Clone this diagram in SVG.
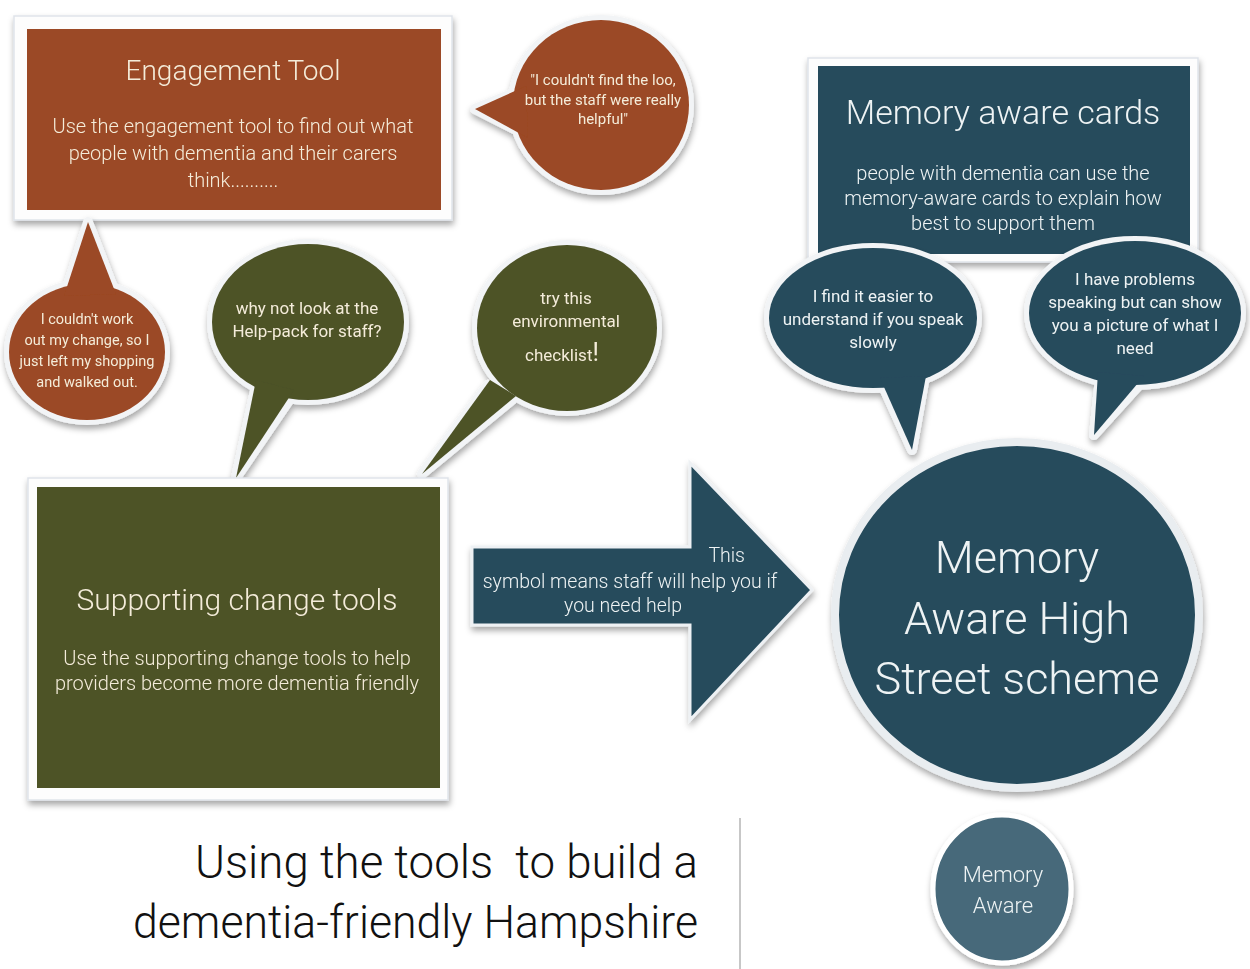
<svg xmlns="http://www.w3.org/2000/svg" width="1250" height="969" viewBox="0 0 1250 969">
  <style>
    text { font-family: Roboto, "Liberation Sans", "DejaVu Sans", sans-serif; font-weight: 300; text-anchor: middle; }
    .cream { fill: #f4ecd9; }
    .pale { fill: #eef3f4; }
    .frame { fill: #fdfdfd; stroke: #dfe4ea; stroke-width: 1.5; }
    .brown { fill: #9b4825; }
    .olive { fill: #4d5228; }
    .teal { fill: #264b5c; }
    .lteal { fill: #46697a; }
    .rim { fill: #ffffff; stroke: #f2f4f6; stroke-width: 10; stroke-linejoin: round; }
    .h1 { font-size: 28px; }
    .body { font-size: 20px; }
    .small { font-size: 14.5px; font-weight: 400; }
    .quote { font-size: 15px; font-weight: 400; }
    .mid { font-size: 17px; font-weight: 400; }
    .big { font-size: 45px; }
  </style>
  <defs>
    <filter id="shadow" x="-10%" y="-10%" width="120%" height="125%">
      <feDropShadow dx="1" dy="4" stdDeviation="3" flood-color="#000" flood-opacity="0.35"/>
    </filter>
  </defs>

  <rect width="1250" height="969" fill="#ffffff"/>

  <!-- Engagement Tool card -->
  <g id="engagement-tool" filter="url(#shadow)">
    <rect class="frame" x="14" y="16" width="438" height="204"/>
    <rect class="brown" x="27" y="29" width="414" height="181"/>
    <text class="cream h1" x="233" y="80">Engagement Tool</text>
    <text class="cream body" x="233" y="133">Use the engagement tool to find out what</text>
    <text class="cream body" x="233" y="160">people with dementia and their carers</text>
    <text class="cream body" x="233" y="187">think..........</text>
  </g>

  <!-- quote bubble: loo -->
  <g id="bubble-loo" filter="url(#shadow)">
    <ellipse class="rim" cx="601" cy="105" rx="88" ry="85"/>
    <polygon class="rim" points="475,109 522,90 524,134"/>
    <ellipse class="brown" cx="601" cy="105" rx="88" ry="85"/>
    <polygon class="brown" points="475,109 526,86 528,138"/>
    <text class="cream quote" x="603" y="85">"I couldn't find the loo,</text>
    <text class="cream quote" x="603" y="105">but the staff were really</text>
    <text class="cream quote" x="603" y="124">helpful"</text>
  </g>

  <!-- quote bubble: change -->
  <g id="bubble-change" filter="url(#shadow)">
    <ellipse class="rim" cx="87" cy="352" rx="78" ry="68"/>
    <polygon class="rim" points="88,222 66,292 114,290"/>
    <ellipse class="brown" cx="87" cy="352" rx="78" ry="68"/>
    <polygon class="brown" points="88,222 64,296 116,294"/>
    <text class="cream small" x="87" y="324">I couldn't work</text>
    <text class="cream small" x="87" y="345">out my change, so I</text>
    <text class="cream small" x="87" y="366">just left my shopping</text>
    <text class="cream small" x="87" y="387">and walked out.</text>
  </g>

  <!-- green bubble: help-pack -->
  <g id="bubble-helppack" filter="url(#shadow)">
    <ellipse class="rim" cx="308" cy="322" rx="96" ry="78"/>
    <polygon class="rim" points="236,478 256,386 292,396"/>
    <ellipse class="olive" cx="308" cy="322" rx="96" ry="78"/>
    <polygon class="olive" points="236,478 256,380 294,390"/>
    <text class="cream mid" x="307" y="314">why not look at the</text>
    <text class="cream mid" x="307" y="337">Help-pack for staff?</text>
  </g>

  <!-- green bubble: checklist -->
  <g id="bubble-checklist" filter="url(#shadow)">
    <ellipse class="rim" cx="567" cy="328" rx="90" ry="83"/>
    <polygon class="rim" points="422,474 488,385 512,400"/>
    <ellipse class="olive" cx="567" cy="328" rx="90" ry="83"/>
    <polygon class="olive" points="422,474 490,380 516,396"/>
    <text class="cream mid" x="566" y="304">try this</text>
    <text class="cream mid" x="566" y="327">environmental</text>
    <text class="cream mid" x="562" y="361">checklist<tspan font-size="25">!</tspan></text>
  </g>

  <!-- Memory aware cards -->
  <g id="memory-cards" filter="url(#shadow)">
    <rect class="frame" x="808" y="58" width="390" height="204"/>
    <rect class="teal" x="818" y="66" width="372" height="188"/>
    <text class="pale" x="1003" y="124" font-size="34">Memory aware cards</text>
    <text class="pale body" x="1003" y="180">people with dementia can use the</text>
    <text class="pale body" x="1003" y="205">memory-aware cards to explain how</text>
    <text class="pale body" x="1003" y="230">best to support them</text>
  </g>

  <!-- speech bubble: speak slowly -->
  <g id="bubble-slowly" filter="url(#shadow)">
    <ellipse class="rim" cx="873" cy="318" rx="104" ry="70"/>
    <polygon class="rim" points="912,450 882,384 924,382"/>
    <ellipse class="teal" cx="873" cy="318" rx="104" ry="70"/>
    <polygon class="teal" points="912,450 880,378 926,376"/>
    <text class="pale mid" x="873" y="302">I find it easier to</text>
    <text class="pale mid" x="873" y="325">understand if you speak</text>
    <text class="pale mid" x="873" y="348">slowly</text>
  </g>

  <!-- speech bubble: picture -->
  <g id="bubble-picture" filter="url(#shadow)">
    <ellipse class="rim" cx="1135" cy="313" rx="106" ry="72"/>
    <polygon class="rim" points="1094,435 1100,378 1142,382"/>
    <ellipse class="teal" cx="1135" cy="313" rx="106" ry="72"/>
    <polygon class="teal" points="1094,435 1098,372 1144,376"/>
    <text class="pale mid" x="1135" y="285">I have problems</text>
    <text class="pale mid" x="1135" y="308">speaking but can show</text>
    <text class="pale mid" x="1135" y="331">you a picture of what I</text>
    <text class="pale mid" x="1135" y="354">need</text>
  </g>

  <!-- Supporting change tools -->
  <g id="supporting-change" filter="url(#shadow)">
    <rect class="frame" x="28" y="478" width="420" height="322"/>
    <rect class="olive" x="37" y="487" width="403" height="301"/>
    <text class="cream" x="237" y="610" font-size="30">Supporting change tools</text>
    <text class="cream body" x="237" y="665">Use the supporting change tools to help</text>
    <text class="cream body" x="237" y="690">providers become more dementia friendly</text>
  </g>

  <!-- connector: arrow into the scheme -->
  <g id="connectors">
    <g id="arrow-help" filter="url(#shadow)">
      <polygon class="teal" points="472,547 690,547 690,463 812,590 690,720 690,625 472,625" stroke="#eef1f4" stroke-width="3" stroke-linejoin="miter"/>
      <text class="pale" x="745" y="562" font-size="19.5" style="text-anchor:end">This</text>
      <text class="pale" x="630" y="588" font-size="19.5">symbol means staff will help you if</text>
      <text class="pale" x="623" y="612" font-size="19.5">you need help</text>
    </g>
  </g>

  <!-- Memory Aware High Street scheme -->
  <g id="scheme" filter="url(#shadow)">
    <ellipse class="teal" cx="1017" cy="615" rx="182" ry="173" stroke="#e9edf0" stroke-width="8"/>
    <text class="pale big" x="1017" y="573">Memory</text>
    <text class="pale big" x="1017" y="634">Aware High</text>
    <text class="pale big" x="1017" y="694">Street scheme</text>
  </g>

  <!-- Memory Aware badge -->
  <g id="badge" filter="url(#shadow)">
    <ellipse class="lteal" cx="1002" cy="889" rx="69" ry="74" stroke="#ffffff" stroke-width="5"/>
    <text class="pale" x="1003" y="882" font-size="22">Memory</text>
    <text class="pale" x="1003" y="913" font-size="22">Aware</text>
  </g>

  <!-- title -->
  <g id="title">
    <line x1="740" y1="818" x2="740" y2="969" stroke="#b5b5b5" stroke-width="1.5"/>
    <text x="698" y="878" font-size="46" fill="#111" xml:space="preserve" style="text-anchor:end; white-space:pre" textLength="503" lengthAdjust="spacingAndGlyphs">Using the tools  to build a</text>
    <text x="698" y="938" font-size="46" fill="#111" style="text-anchor:end" textLength="565" lengthAdjust="spacingAndGlyphs">dementia-friendly Hampshire</text>
  </g>
</svg>
